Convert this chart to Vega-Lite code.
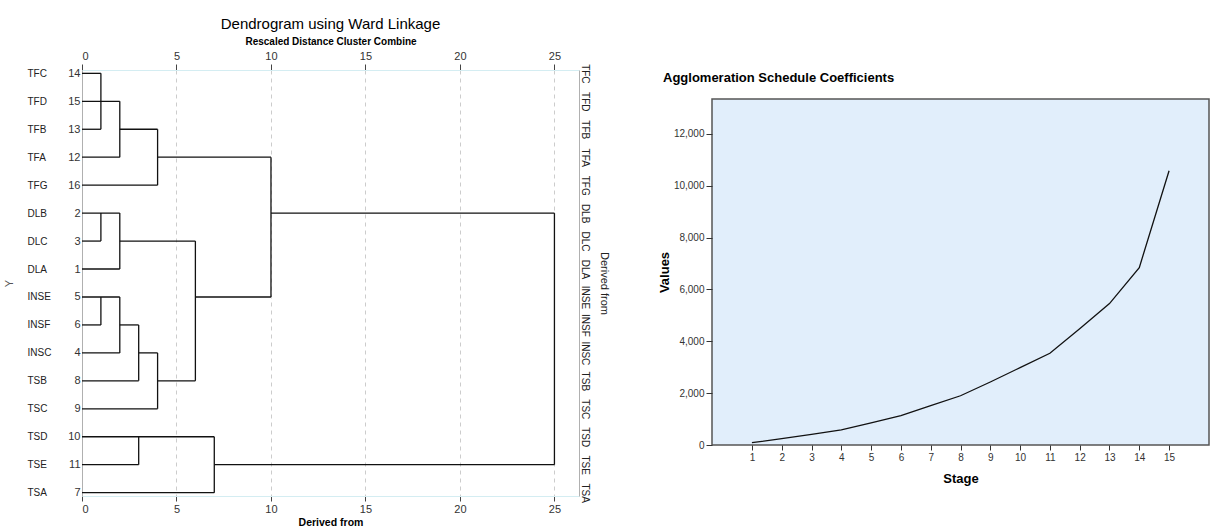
{
  "$schema": "https://vega.github.io/schema/vega-lite/v6.json",
  "background": "white",
  "padding": {"left": 3, "top": 17, "right": 0, "bottom": 0},
  "config": {
    "font": "Liberation Sans",
    "concat": {"spacing": 48},
    "title": {"color": "#000"},
    "axis": {"labelColor": "#333", "titleColor": "#000"}
  },
  "datasets": {
    "segments": [
      {"d1": 0, "d2": 1, "r1": 1, "r2": 1},
      {"d1": 0, "d2": 2, "r1": 2, "r2": 2},
      {"d1": 0, "d2": 1, "r1": 3, "r2": 3},
      {"d1": 2, "d2": 4, "r1": 3, "r2": 3},
      {"d1": 0, "d2": 2, "r1": 4, "r2": 4},
      {"d1": 4, "d2": 10, "r1": 4, "r2": 4},
      {"d1": 0, "d2": 4, "r1": 5, "r2": 5},
      {"d1": 0, "d2": 2, "r1": 6, "r2": 6},
      {"d1": 10, "d2": 25, "r1": 6, "r2": 6},
      {"d1": 0, "d2": 1, "r1": 7, "r2": 7},
      {"d1": 2, "d2": 6, "r1": 7, "r2": 7},
      {"d1": 0, "d2": 2, "r1": 8, "r2": 8},
      {"d1": 0, "d2": 2, "r1": 9, "r2": 9},
      {"d1": 6, "d2": 10, "r1": 9, "r2": 9},
      {"d1": 0, "d2": 1, "r1": 10, "r2": 10},
      {"d1": 2, "d2": 3, "r1": 10, "r2": 10},
      {"d1": 0, "d2": 2, "r1": 11, "r2": 11},
      {"d1": 3, "d2": 4, "r1": 11, "r2": 11},
      {"d1": 0, "d2": 3, "r1": 12, "r2": 12},
      {"d1": 4, "d2": 6, "r1": 12, "r2": 12},
      {"d1": 0, "d2": 4, "r1": 13, "r2": 13},
      {"d1": 0, "d2": 7, "r1": 14, "r2": 14},
      {"d1": 0, "d2": 3, "r1": 15, "r2": 15},
      {"d1": 7, "d2": 25, "r1": 15, "r2": 15},
      {"d1": 0, "d2": 7, "r1": 16, "r2": 16},
      {"d1": 1, "d2": 1, "r1": 1, "r2": 3},
      {"d1": 2, "d2": 2, "r1": 2, "r2": 4},
      {"d1": 4, "d2": 4, "r1": 3, "r2": 5},
      {"d1": 1, "d2": 1, "r1": 6, "r2": 7},
      {"d1": 2, "d2": 2, "r1": 6, "r2": 8},
      {"d1": 1, "d2": 1, "r1": 9, "r2": 10},
      {"d1": 2, "d2": 2, "r1": 9, "r2": 11},
      {"d1": 3, "d2": 3, "r1": 10, "r2": 12},
      {"d1": 4, "d2": 4, "r1": 11, "r2": 13},
      {"d1": 6, "d2": 6, "r1": 7, "r2": 12},
      {"d1": 10, "d2": 10, "r1": 4, "r2": 9},
      {"d1": 3, "d2": 3, "r1": 14, "r2": 15},
      {"d1": 7, "d2": 7, "r1": 14, "r2": 16},
      {"d1": 25, "d2": 25, "r1": 6, "r2": 15}
    ],
    "leaves": [
      {"order": 1, "name": "TFC", "num": 14, "height": 0},
      {"order": 2, "name": "TFD", "num": 15, "height": 0},
      {"order": 3, "name": "TFB", "num": 13, "height": 0},
      {"order": 4, "name": "TFA", "num": 12, "height": 0},
      {"order": 5, "name": "TFG", "num": 16, "height": 0},
      {"order": 6, "name": "DLB", "num": 2, "height": 0},
      {"order": 7, "name": "DLC", "num": 3, "height": 0},
      {"order": 8, "name": "DLA", "num": 1, "height": 0},
      {"order": 9, "name": "INSE", "num": 5, "height": 0},
      {"order": 10, "name": "INSF", "num": 6, "height": 0},
      {"order": 11, "name": "INSC", "num": 4, "height": 0},
      {"order": 12, "name": "TSB", "num": 8, "height": 0},
      {"order": 13, "name": "TSC", "num": 9, "height": 0},
      {"order": 14, "name": "TSD", "num": 10, "height": 0},
      {"order": 15, "name": "TSE", "num": 11, "height": 0},
      {"order": 16, "name": "TSA", "num": 7, "height": 0}
    ],
    "stages": [
      {"stage": 1, "coef": 90},
      {"stage": 2, "coef": 245},
      {"stage": 3, "coef": 410},
      {"stage": 4, "coef": 580},
      {"stage": 5, "coef": 850},
      {"stage": 6, "coef": 1130},
      {"stage": 7, "coef": 1520},
      {"stage": 8, "coef": 1900},
      {"stage": 9, "coef": 2430},
      {"stage": 10, "coef": 2985},
      {"stage": 11, "coef": 3540},
      {"stage": 12, "coef": 4490},
      {"stage": 13, "coef": 5455},
      {"stage": 14, "coef": 6845},
      {"stage": 15, "coef": 10580}
    ]
  },
  "hconcat": [
    {
      "width": 497,
      "height": 426,
      "title": {"text": "Dendrogram using Ward Linkage", "fontSize": 15, "fontWeight": "normal", "anchor": "middle", "offset": 4},
      "view": {"stroke": null},
      "layer": [
        {
          "data": {"name": "segments"},
          "mark": {"type": "rule", "color": "#111", "strokeWidth": 1.3},
          "encoding": {
            "x": {
              "field": "d1", "type": "quantitative",
              "scale": {"domain": [0, 26.3], "nice": false, "zero": false},
              "axis": {
                "orient": "top", "values": [0, 5, 10, 15, 20, 25],
                "grid": true, "gridDash": [4, 4], "gridColor": "#cccccc",
                "domainColor": "#d4edf2", "tickColor": "#444", "tickSize": 6,
                "labelFontSize": 11, "labelPadding": 3,
                "title": "Rescaled Distance Cluster Combine", "titleFontSize": 10, "titleFontWeight": "bold", "titlePadding": 4
              }
            },
            "x2": {"field": "d2"},
            "y": {
              "field": "r1", "type": "quantitative",
              "scale": {"domain": [0.88, 16.12], "reverse": true, "nice": false, "zero": false},
              "axis": {
                "orient": "left", "values": [1, 2, 3, 4, 5, 6, 7, 8, 9, 10, 11, 12, 13, 14, 15, 16],
                "labelExpr": "['', '14', '15', '13', '12', '16', '2', '3', '1', '5', '6', '4', '8', '9', '10', '11', '7'][datum.value]",
                "grid": false, "ticks": false, "labelPadding": 2, "domainColor": "#b0b0b0", "labelFontSize": 11, "title": null
              }
            },
            "y2": {"field": "r2"}
          }
        },
        {
          "data": {"name": "leaves"},
          "mark": {"type": "point", "opacity": 0},
          "encoding": {
            "x": {
              "field": "height", "type": "quantitative",
              "axis": {
                "orient": "bottom", "values": [0, 5, 10, 15, 20, 25], "grid": false,
                "domainColor": "#d4edf2", "tickColor": "#444", "tickSize": 5,
                "labelFontSize": 11, "labelPadding": 2,
                "title": "Derived from", "titleFontSize": 10.5, "titleFontWeight": "bold", "titlePadding": 3
              }
            },
            "y": {
              "field": "order", "type": "quantitative",
              "axis": {
                "orient": "left", "values": [1, 2, 3, 4, 5, 6, 7, 8, 9, 10, 11, 12, 13, 14, 15, 16],
                "labelExpr": "['', 'TFC', 'TFD', 'TFB', 'TFA', 'TFG', 'DLB', 'DLC', 'DLA', 'INSE', 'INSF', 'INSC', 'TSB', 'TSC', 'TSD', 'TSE', 'TSA'][datum.value]",
                "grid": false, "ticks": false, "domain": false, "labelAlign": "left", "labelPadding": 55,
                "labelFontSize": 10, "labelColor": "#222",
                "title": "Y", "titleFontSize": 11, "titleFontWeight": "normal", "titleColor": "#555", "titlePadding": 13
              }
            }
          }
        },
        {
          "data": {"name": "leaves"},
          "mark": {"type": "point", "opacity": 0},
          "encoding": {
            "x": {"field": "height", "type": "quantitative", "axis": null},
            "y": {
              "field": "order", "type": "quantitative",
              "axis": {
                "orient": "right", "values": [1, 2, 3, 4, 5, 6, 7, 8, 9, 10, 11, 12, 13, 14, 15, 16],
                "labelExpr": "['', 'TFC', 'TFD', 'TFB', 'TFA', 'TFG', 'DLB', 'DLC', 'DLA', 'INSE', 'INSF', 'INSC', 'TSB', 'TSC', 'TSD', 'TSE', 'TSA'][datum.value]",
                "grid": false, "ticks": false, "domainColor": "#b0b0b0", "labelAngle": 90, "labelAlign": "center", "labelBaseline": "bottom",
                "labelPadding": 0, "labelFontSize": 10, "labelColor": "#222",
                "title": "Derived from", "titleFontSize": 11, "titleFontWeight": "normal", "titleColor": "#222", "titlePadding": 9
              }
            }
          }
        }
      ],
      "resolve": {"axis": {"x": "independent", "y": "independent"}}
    },
    {
      "spacing": -3,
      "vconcat": [
        {
          "width": 497,
          "height": 1,
          "data": {"values": [{}]},
          "mark": {"type": "point", "opacity": 0},
          "view": {"stroke": null}
        },
        {
          "width": 497,
          "height": 346,
          "data": {"name": "stages"},
          "title": {"text": "Agglomeration Schedule Coefficients", "anchor": "start", "frame": "group", "dx": -49, "fontSize": 13, "fontWeight": "bold", "offset": 14},
          "view": {"fill": "#e1eefb", "stroke": "#555", "strokeWidth": 1.5},
          "mark": {"type": "line", "color": "#111", "strokeWidth": 1.3},
          "encoding": {
            "x": {
              "field": "stage", "type": "quantitative",
              "scale": {"domain": [-0.34, 16.34], "nice": false, "zero": false},
              "axis": {
                "values": [1, 2, 3, 4, 5, 6, 7, 8, 9, 10, 11, 12, 13, 14, 15],
                "grid": false, "domain": false, "tickColor": "#333", "tickSize": 5,
                "labelFontSize": 10, "labelPadding": 2,
                "title": "Stage", "titleFontSize": 13, "titleFontWeight": "bold", "titlePadding": 10
              }
            },
            "y": {
              "field": "coef", "type": "quantitative",
              "scale": {"domain": [0, 13350], "nice": false},
              "axis": {
                "values": [0, 2000, 4000, 6000, 8000, 10000, 12000],
                "labelExpr": "format(datum.value, ',')",
                "grid": false, "domain": false, "tickColor": "#333", "tickSize": 6,
                "labelFontSize": 10, "labelPadding": 2,
                "title": "Values", "titleFontSize": 13, "titleFontWeight": "bold", "titlePadding": 2
              }
            }
          }
        }
      ]
    }
  ]
}
